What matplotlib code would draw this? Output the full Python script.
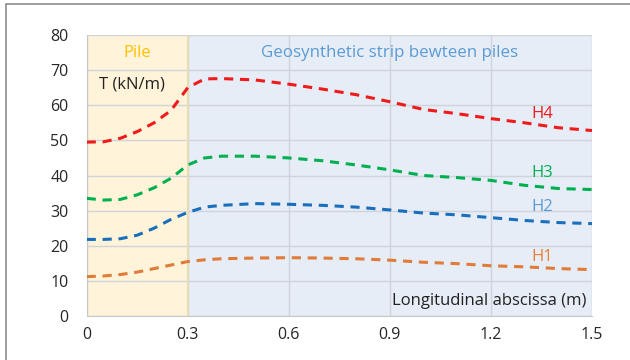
import matplotlib.pyplot as plt
from matplotlib.patches import Rectangle

x = [0, 0.05, 0.1, 0.15, 0.2, 0.25, 0.3, 0.35, 0.4, 0.5, 0.6, 0.7, 0.8, 0.9,
     1.0, 1.1, 1.2, 1.3, 1.4, 1.5]
h4 = [49.5, 49.6, 50.6, 52.5, 55.0, 58.5, 65.0, 67.5, 67.6, 67.2, 66.0, 64.6,
      63.0, 61.0, 58.8, 57.6, 56.2, 55.0, 53.6, 52.8]
h3 = [33.5, 33.0, 33.2, 34.5, 36.5, 39.2, 43.0, 45.0, 45.5, 45.5, 45.0, 44.2,
      43.0, 41.6, 40.0, 39.4, 38.6, 37.2, 36.3, 36.0]
h2 = [21.8, 21.8, 22.0, 23.0, 25.0, 27.5, 29.5, 31.0, 31.5, 32.0, 31.8, 31.5,
      31.0, 30.2, 29.3, 28.8, 28.0, 27.2, 26.6, 26.3]
h1 = [11.2, 11.4, 11.8, 12.5, 13.5, 14.5, 15.5, 16.0, 16.3, 16.5, 16.6, 16.5,
      16.3, 15.9, 15.3, 14.9, 14.3, 14.0, 13.5, 13.2]

series = [("H4", h4, "#f01a1a", "#f01a1a", 57.5),
          ("H3", h3, "#00b050", "#00b050", 40.7),
          ("H2", h2, "#1a6fbd", "#5b9bd5", 31.0),
          ("H1", h1, "#e07b39", "#ed7d31", 16.8)]

plt.rcParams["font.family"] = ["Open Sans", "DejaVu Sans"]

fig = plt.figure(figsize=(6.3, 3.6), dpi=100)
fig.patches.append(Rectangle((6 / 630, -0.1), 1.2, (356 / 360) + 0.1,
                             transform=fig.transFigure, fill=False,
                             edgecolor="#8c8c8c", linewidth=1.2))
ax = fig.add_axes([86.7 / 630, 44 / 360, 505.3 / 630, 281 / 360])

ax.axvspan(0, 0.3, color="#fff4d9", zorder=0)
ax.axvspan(0.3, 1.5, color="#e6edf6", zorder=0)
ax.axvline(0.3, color="#e8dcb4", lw=1.5, zorder=1)
ax.set_xlim(0, 1.5)
ax.set_ylim(0, 80)
ax.set_xticks([0, 0.3, 0.6, 0.9, 1.2, 1.5])
ax.set_xticklabels(["0", "0.3", "0.6", "0.9", "1.2", "1.5"])
ax.set_yticks(range(0, 81, 10))
ax.grid(True, color="#cfd3da", lw=1, zorder=1)
ax.set_axisbelow(True)
for s in ["top", "right"]:
    ax.spines[s].set_visible(False)
for s in ["left", "bottom"]:
    ax.spines[s].set_color("#c8c8c8")
ax.tick_params(length=0, labelsize=11.5, colors="#262626")
ax.tick_params(axis="y", pad=13)
ax.tick_params(axis="x", pad=8)

for name, y, c, tc, ly in series:
    ax.plot(x, y, color=c, lw=2.2, dashes=(3, 2.2), zorder=3)
    ax.text(1.352, ly, name, color=tc, fontsize=12, ha="center", va="center")

ax.text(0.15, 74.8, "Pile", color="#ffc000", fontsize=12, ha="center", va="center")
ax.text(0.9, 74.8, "Geosynthetic strip bewteen piles", color="#5b9bd5",
        fontsize=12.2, ha="center", va="center")
ax.text(0.037, 65.8, "T (kN/m)", color="#222222", fontsize=12, ha="left", va="center")
ax.text(1.483, 4.4, "Longitudinal abscissa (m)", color="#222222", fontsize=12,
        ha="right", va="center")

fig.savefig("out.png", dpi=100)
